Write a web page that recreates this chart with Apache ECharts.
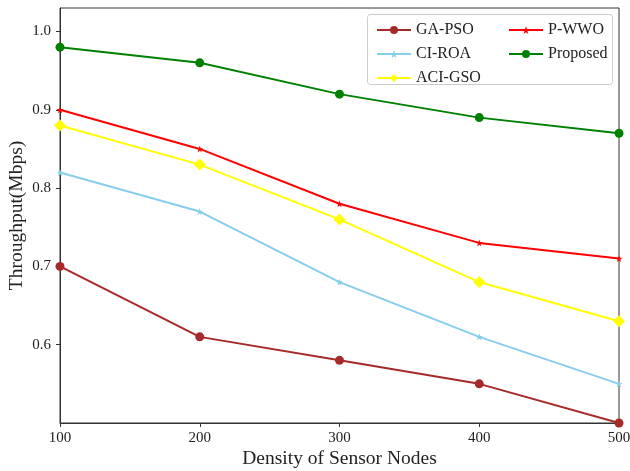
<!DOCTYPE html>
<html>
<head>
<meta charset="utf-8">
<script src="https://cdn.jsdelivr.net/npm/echarts@6/dist/echarts.min.js"></script>
<style>
  html, body { margin: 0; padding: 0; background: #fff; }
  #chart { width: 630px; height: 471px; }
</style>
</head>
<body>
<div id="chart"></div>
<script>
// Node densities on the x axis
const densities = [100, 200, 300, 400, 500];

// Throughput (Mbps) per method
const gaPso    = [0.70, 0.61, 0.58, 0.55, 0.50];
const ciRoa    = [0.82, 0.77, 0.68, 0.61, 0.55];
const aciGso   = [0.88, 0.83, 0.76, 0.68, 0.63];
const pWwo     = [0.90, 0.85, 0.78, 0.73, 0.71];
const proposed = [0.98, 0.96, 0.92, 0.89, 0.87];

// Tick labels
const xTicks = [100, 200, 300, 400, 500];
const yTicks = [0.6, 0.7, 0.8, 0.9, 1.0];

const FONT = '"Liberation Serif", "DejaVu Serif", serif';
const STAR = 'path://M50,0 L61,35 L98,35 L68,57 L79,91 L50,70 L21,91 L32,57 L2,35 L39,35 Z';

function pairs(ys) { return densities.map((x, i) => [x, ys[i]]); }

function lineSeries(name, ys, color, symbol, size) {
  return {
    name: name,
    type: 'line',
    data: pairs(ys),
    symbol: symbol,
    symbolSize: size,
    showSymbol: true,
    lineStyle: { color: color, width: 2 },
    itemStyle: { color: color },
    emphasis: { disabled: true },
    z: 3
  };
}

const chart = echarts.init(document.getElementById('chart'), null, { renderer: 'canvas' });

const legendText = { fontFamily: FONT, fontSize: 16, color: '#222' };

chart.setOption({
  animation: false,
  backgroundColor: '#fff',
  grid: {
    left: 60, right: 11, top: 8, bottom: 48,
    outerBoundsMode: 'none',
    containLabel: false,
    show: true, borderColor: '#333', borderWidth: 1
  },
  xAxis: {
    type: 'value',
    min: 100, max: 500, interval: 100,
    name: 'Density of Sensor Nodes',
    nameLocation: 'middle',
    nameGap: 26,
    nameMoveOverlap: false,
    nameTextStyle: { fontFamily: FONT, fontSize: 19.5, color: '#222' },
    axisLine: { show: true, lineStyle: { color: '#333', width: 1 } },
    axisTick: { show: true, inside: false, length: 4, lineStyle: { color: '#333' }, customValues: xTicks },
    axisLabel: { fontFamily: FONT, fontSize: 15, color: '#222', margin: 8, customValues: xTicks, hideOverlap: false },
    splitLine: { show: false }
  },
  yAxis: {
    type: 'value',
    min: 0.5, max: 1.03,
    name: 'Throughput(Mbps)',
    nameLocation: 'middle',
    nameGap: 33,
    nameMoveOverlap: false,
    nameTextStyle: { fontFamily: FONT, fontSize: 19.5, color: '#222' },
    axisLine: { show: true, lineStyle: { color: '#333', width: 1 } },
    axisTick: { show: true, inside: false, length: 4, lineStyle: { color: '#333' }, customValues: yTicks },
    axisLabel: {
      fontFamily: FONT, fontSize: 15, color: '#222', margin: 9,
      customValues: yTicks,
      formatter: v => v.toFixed(1)
    },
    splitLine: { show: false }
  },
  legend: [
    {
      data: ['GA-PSO', 'CI-ROA', 'ACI-GSO'],
      orient: 'vertical',
      left: 371, top: 17,
      itemWidth: 34, itemHeight: 10, itemGap: 8,
      textStyle: legendText,
      selectedMode: false,
      z: 20
    },
    {
      data: ['P-WWO', 'Proposed'],
      orient: 'vertical',
      left: 503, top: 17,
      itemWidth: 34, itemHeight: 10, itemGap: 8,
      textStyle: legendText,
      selectedMode: false,
      z: 20
    }
  ],
  graphic: [
    {
      type: 'rect',
      left: 367, top: 14,
      shape: { width: 245, height: 70, r: 3 },
      style: { fill: 'rgba(255,255,255,0.85)', stroke: '#ccc', lineWidth: 1 },
      z: 10
    }
  ],
  series: [
    lineSeries('GA-PSO', gaPso, '#a52a2a', 'circle', 9),
    lineSeries('CI-ROA', ciRoa, '#87ceeb', STAR, 7),
    lineSeries('ACI-GSO', aciGso, '#ffff00', 'diamond', 12),
    lineSeries('P-WWO', pWwo, '#ff0000', STAR, 7),
    lineSeries('Proposed', proposed, '#008000', 'circle', 9)
  ]
});
</script>
</body>
</html>
